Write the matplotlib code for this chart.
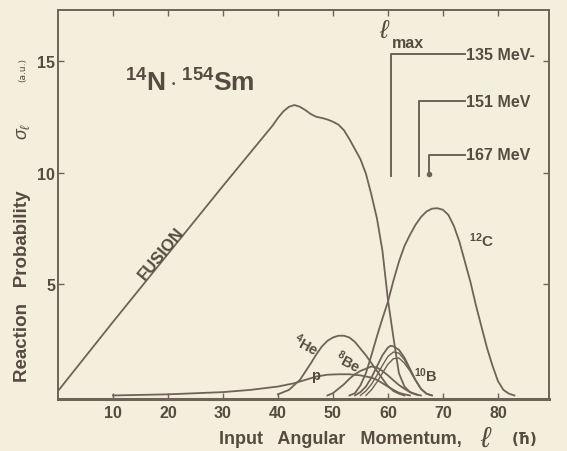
import matplotlib
matplotlib.use("Agg")
import matplotlib.pyplot as plt

plt.rcParams["mathtext.fontset"] = "custom"
plt.rcParams["mathtext.rm"] = "Liberation Sans"
plt.rcParams["mathtext.bf"] = "Liberation Sans:bold"
plt.rcParams["mathtext.it"] = "Liberation Sans:italic"

# ---- data (l in hbar, sigma in arb. units) ----
l_fusion = [0, 10, 20, 30, 36, 39, 40, 41, 42, 43, 44, 45, 46, 47, 48, 49, 50,
            51, 52, 53, 54, 55, 56, 57, 58, 59, 60, 61, 62, 63, 64, 65.5]
s_fusion = [0.2, 3.3, 6.35, 9.4, 11.2, 12.1, 12.45, 12.75, 12.95, 13.03, 12.95,
            12.8, 12.62, 12.5, 12.45, 12.38, 12.28, 12.15, 11.9, 11.5, 11.05,
            10.6, 9.95, 9.0, 7.95, 6.5, 4.3, 2.6, 1.0, 0.4, 0.15, 0.02]

l_c12 = [53, 54, 55, 56, 57, 58, 59, 60, 61, 62, 63, 64, 65, 66, 67, 68, 69,
         70, 71, 72, 73, 74, 75, 76, 77, 78, 79, 80, 81, 82, 83]
s_c12 = [0.0, 0.1, 0.45, 1.0, 1.8, 2.65, 3.45, 4.2, 5.15, 6.0, 6.7, 7.2, 7.65,
         8.0, 8.25, 8.38, 8.4, 8.33, 8.1, 7.6, 6.9, 6.0, 5.1, 4.05, 3.1, 2.15,
         1.35, 0.65, 0.25, 0.08, 0.0]

l_he4 = [40, 42, 44, 46, 47, 48, 49, 50, 51, 52, 53, 54, 55, 56, 57, 58, 59,
         60, 61, 62, 63]
s_he4 = [0.05, 0.25, 0.7, 1.45, 1.85, 2.2, 2.45, 2.6, 2.68, 2.68, 2.6, 2.4,
         2.1, 1.8, 1.45, 1.1, 0.75, 0.42, 0.2, 0.08, 0.0]

l_p = [10, 20, 30, 35, 40, 43, 45, 47, 49, 51, 53, 55, 57, 58, 59, 60, 61, 62,
       63, 64]
s_p = [0.0, 0.05, 0.15, 0.25, 0.4, 0.55, 0.7, 0.85, 0.93, 0.95, 0.95, 0.9,
       0.8, 0.7, 0.55, 0.4, 0.25, 0.12, 0.05, 0.0]

l_be8 = [49, 50, 51, 52, 53, 54, 55, 56, 57, 58, 59, 60, 61, 62, 63, 64, 65, 66]
s_be8 = [0.0, 0.1, 0.3, 0.5, 0.75, 0.95, 1.1, 1.2, 1.3, 1.25, 1.1, 0.9, 0.68,
         0.47, 0.3, 0.15, 0.05, 0.0]

l_b10 = [54, 55, 56, 57, 58, 59, 60, 60.5, 61, 62, 63, 64, 65, 66, 67, 68]
s_b10 = [0.0, 0.15, 0.4, 0.8, 1.3, 1.8, 2.15, 2.23, 2.2, 2.05, 1.7, 1.2, 0.7,
         0.3, 0.08, 0.0]

# neighbouring (unlabelled) boron-like curves inside the hatched band
l_b_a = [55, 56, 57, 58, 59, 60, 61, 62, 63, 64, 65, 66, 67, 68]
s_b_a = [0.0, 0.2, 0.5, 0.9, 1.35, 1.75, 1.95, 1.9, 1.6, 1.15, 0.7, 0.3, 0.08, 0.0]
l_b_b = [56, 57, 58, 59, 60, 61, 62, 63, 64, 65, 66, 67, 68]
s_b_b = [0.0, 0.25, 0.6, 1.0, 1.4, 1.65, 1.68, 1.45, 1.1, 0.68, 0.3, 0.08, 0.0]

# l_max markers: (l, top of the bracket, label)
lmax_l = [60.5, 65.6, 67.5]
lmax_top = [15.3, 13.2, 10.8]
lmax_label = ["135 MeV-", "151 MeV", "167 MeV"]

x_ticks = [10, 20, 30, 40, 50, 60, 70, 80]
y_ticks = [5, 10, 15]

# ---- style ----
BG = "#f4efdc"
INK = "#6e6259"
TXT = "#564a41"
FONT = "Liberation Sans"

fig = plt.figure(figsize=(5.67, 4.52), dpi=100, facecolor=BG)
ax = fig.add_axes([0.1023, 0.115, 0.866, 0.861], facecolor=BG)

lw = 1.3
ax.plot(l_fusion, s_fusion, color=INK, lw=lw)
ax.plot(l_c12, s_c12, color=INK, lw=lw)
ax.plot(l_he4, s_he4, color=INK, lw=lw)
ax.plot(l_p, s_p, color=INK, lw=lw)
ax.plot(l_be8, s_be8, color=INK, lw=lw)
ax.plot(l_b10, s_b10, color=INK, lw=lw)
ax.plot(l_b_a, s_b_a, color=INK, lw=1.0)
ax.plot(l_b_b, s_b_b, color=INK, lw=1.0)

# l_max brackets
lab_x = 74.1
for lv, top, lab in zip(lmax_l, lmax_top, lmax_label):
    ax.plot([lv, lv, lab_x], [9.85, top, top], color=INK, lw=1.4)
    ax.text(lab_x + 0.1, top, lab, color=TXT, fontsize=11.5, fontweight="bold",
            family=FONT, va="center", ha="left")
ax.plot([lmax_l[-1]], [9.93], "o", color=INK, ms=3)
ax.text(59.4, 16.4, r"$\ell$", color=TXT, fontsize=19, ha="center",
        va="center", family="DejaVu Sans")
ax.text(60.7, 15.85, "max", color=TXT, fontsize=11.5, fontweight="bold",
        family=FONT, ha="left", va="center")

# curve labels
ax.text(12.2, 14.0, r"$^{\mathbf{14}}\mathbf{N}\cdot^{\mathbf{154}}\mathbf{Sm}$",
        color=TXT, fontsize=19, va="center", ha="left")
ax.text(18.8, 6.4, "FUSION", color=TXT, fontsize=12, fontweight="bold",
        family=FONT, rotation=50.5, ha="center", va="center")
ax.text(74.8, 7.0, r"$^{\mathbf{12}}\mathbf{C}$", color=TXT, fontsize=11,
        ha="left", va="center")
ax.text(45.1, 2.3, r"$^{\mathbf{4}}\mathbf{He}$", color=TXT, fontsize=10.5,
        rotation=-28, ha="center", va="center")
ax.text(46.8, 0.9, "p", color=TXT, fontsize=10.5, fontweight="bold",
        family=FONT, ha="center", va="center")
ax.text(52.7, 1.55, r"$^{\mathbf{8}}\mathbf{Be}$", color=TXT, fontsize=10.5,
        rotation=-28, ha="center", va="center")
ax.text(64.7, 0.95, r"$^{\mathbf{10}}\mathbf{B}$", color=TXT, fontsize=10.5,
        ha="left", va="center")

# axes
ax.set_xlim(0, 89.3)
ax.set_ylim(-0.16, 17.3)
ax.set_xticks(x_ticks)
ax.set_yticks(y_ticks)
ax.set_xticklabels([str(v) for v in x_ticks], fontsize=11.5, fontweight="bold",
                   family=FONT, color=TXT)
ax.set_yticklabels([str(v) for v in y_ticks], fontsize=11.5, fontweight="bold",
                   family=FONT, color=TXT)
ax.tick_params(direction="in", length=4, width=1, color=INK, top=True,
               right=True)
ax.tick_params(axis="x", pad=4)
ax.tick_params(axis="y", pad=2)
for side, sp in ax.spines.items():
    sp.set_color(INK)
    sp.set_linewidth(1.4)
ax.spines["bottom"].set_linewidth(2.2)

# axis titles
fig.text(0.815, 0.027, "Input   Angular   Momentum,", color=TXT, fontsize=13,
         fontweight="bold", family=FONT, ha="right", va="center")
fig.text(0.858, 0.03, r"$\ell$", color=TXT, fontsize=21, ha="center",
         va="center", family="DejaVu Sans")
fig.text(0.925, 0.027, "(ħ)", color=TXT, fontsize=11, fontweight="bold",
         family="DejaVu Sans", ha="center", va="center")
fig.text(0.04, 0.367, "Reaction   Probability", color=TXT, fontsize=13.5,
         fontweight="bold", family=FONT, rotation=90,
         ha="center", va="center")
fig.text(0.04, 0.71, r"$\sigma_\ell$", color=TXT, fontsize=13, rotation=90,
         ha="center", va="center", family="DejaVu Sans")
fig.text(0.04, 0.845, "(a.u.)", color=TXT, fontsize=6.5, rotation=90,
         ha="center", va="center")

fig.savefig("out.png", dpi=100, facecolor=BG)
